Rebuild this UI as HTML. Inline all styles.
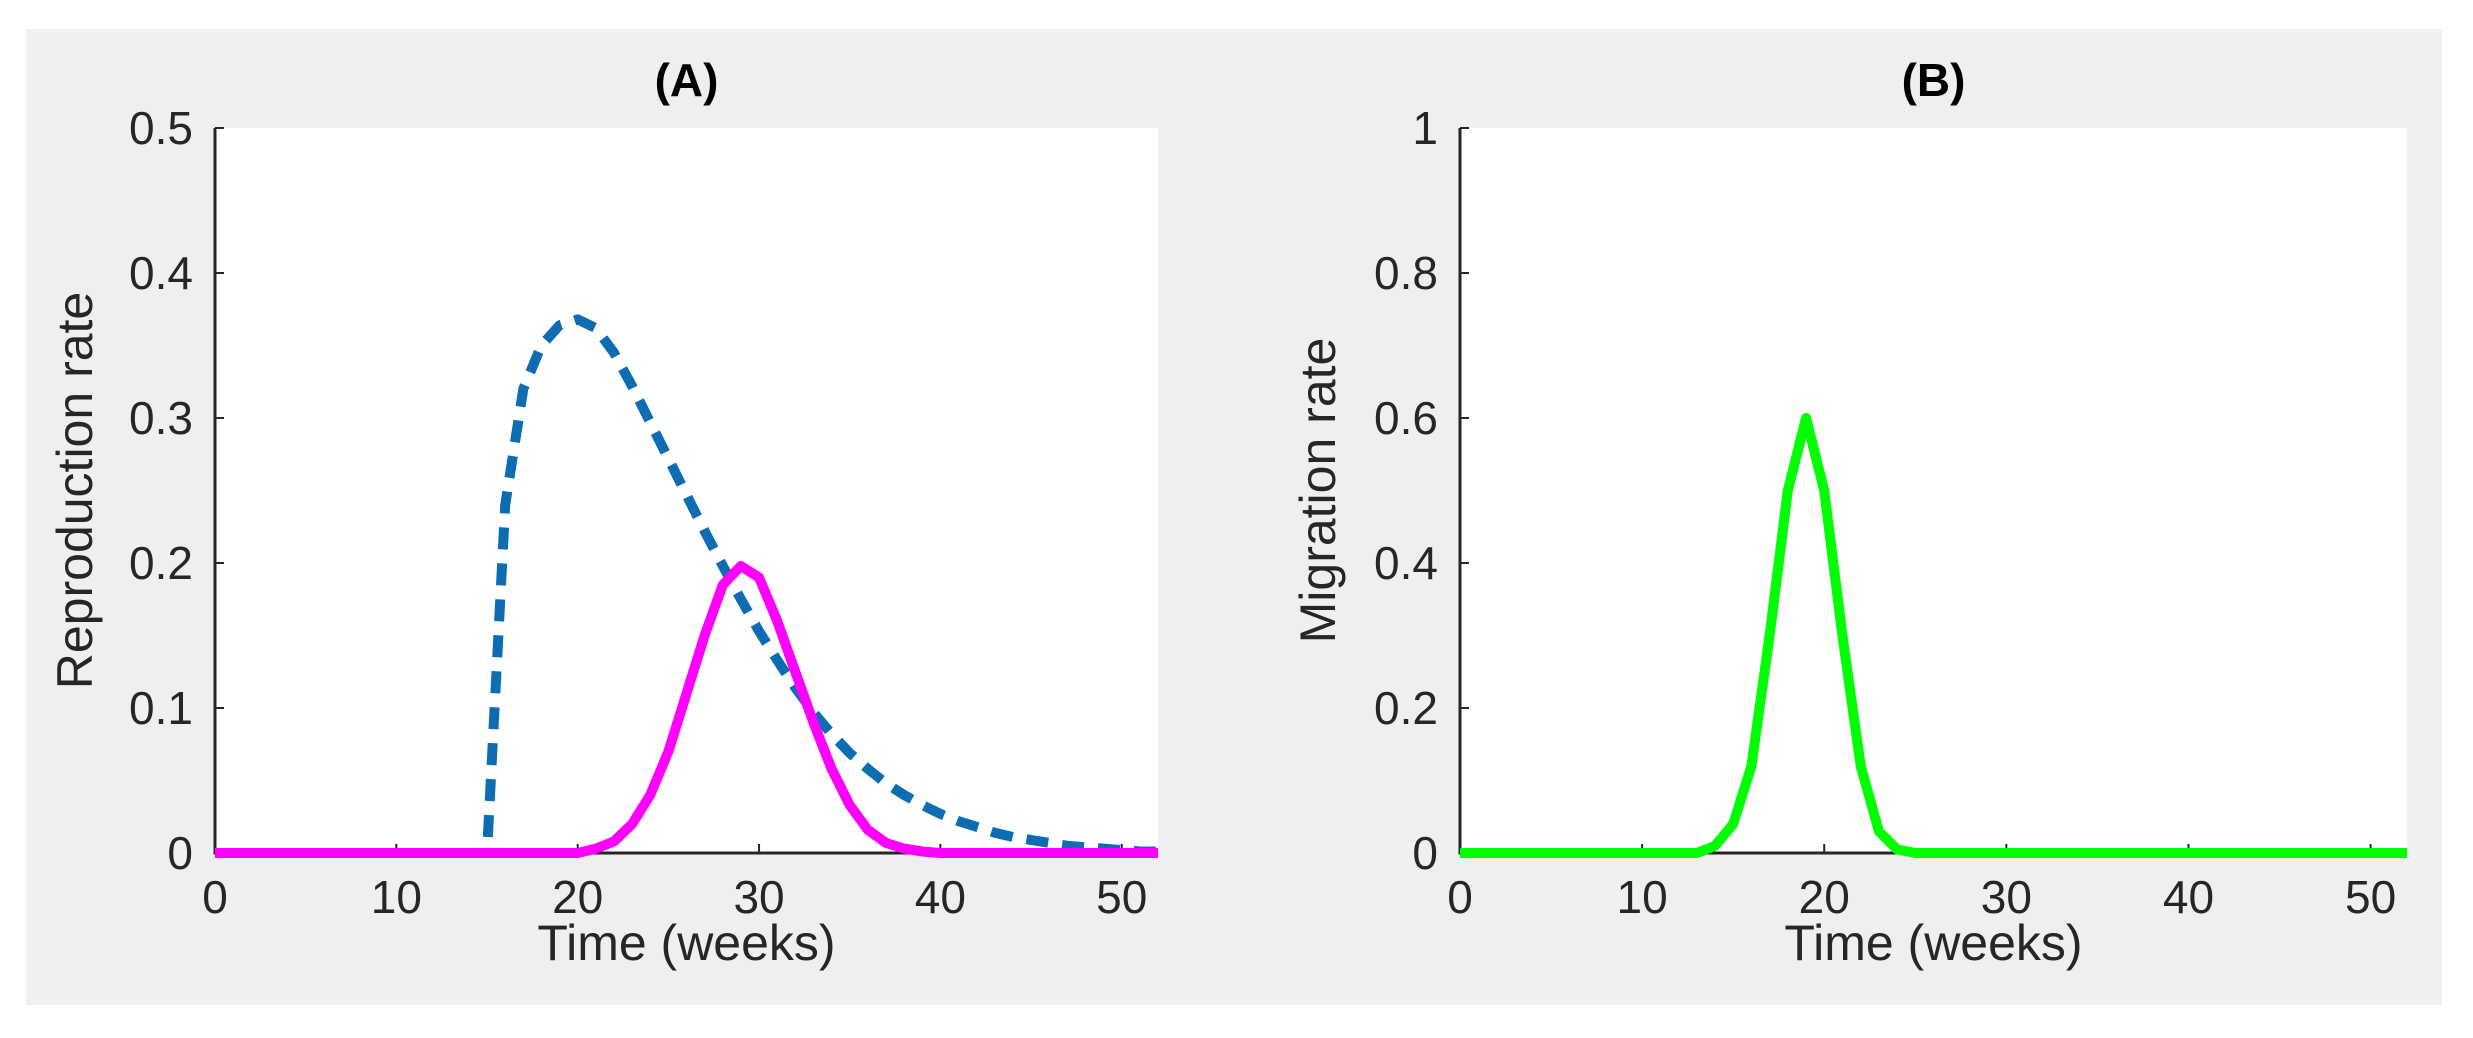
<!DOCTYPE html>
<html><head><meta charset="utf-8"><style>
html,body{margin:0;padding:0;background:#fff;}
svg{display:block;}
text{font-family:"Liberation Sans",Arial,sans-serif;fill:#262626;}
</style></head><body>
<svg id="fig" width="2473" height="1038" viewBox="0 0 2473 1038" xmlns="http://www.w3.org/2000/svg">
<rect x="26" y="29" width="2416" height="976" fill="#efefef"/>
<g id="pa"></g>
<g id="pb"></g>
</svg>
<script>
const weeks = [];
for (let i = 0; i <= 52; i++) weeks.push(i);
const blueRate = [0,0,0,0,0,0,0,0,0,0,0,0,0,0,0,0,0.24,0.32,0.35,0.364,0.368,0.362,0.345,0.322,0.297,0.272,0.247,0.222,0.198,0.175,0.153,0.133,0.114,0.097,0.082,0.069,0.058,0.048,0.04,0.033,0.027,0.022,0.018,0.014,0.011,0.009,0.007,0.005,0.004,0.003,0.002,0.001,0.001];
const pinkRate = [0,0,0,0,0,0,0,0,0,0,0,0,0,0,0,0,0,0,0,0,0,0.003,0.008,0.02,0.04,0.07,0.11,0.15,0.185,0.198,0.19,0.16,0.125,0.09,0.058,0.033,0.016,0.007,0.003,0.001,0,0,0,0,0,0,0,0,0,0,0,0,0];
const greenRate = [0,0,0,0,0,0,0,0,0,0,0,0,0,0,0.01,0.04,0.12,0.3,0.5,0.6,0.5,0.3,0.12,0.03,0.005,0,0,0,0,0,0,0,0,0,0,0,0,0,0,0,0,0,0,0,0,0,0,0,0,0,0,0,0];
const xTicks = [0,10,20,30,40,50];
const yTicksA = [0,0.1,0.2,0.3,0.4,0.5];
const yTicksB = [0,0.2,0.4,0.6,0.8,1];
const yTickLabelsB = ["0","0.2","0.4","0.6","0.8","1"];

const NS = "http://www.w3.org/2000/svg";
function mk(tag, attrs, parent) {
  const e = document.createElementNS(NS, tag);
  for (const k in attrs) e.setAttribute(k, attrs[k]);
  parent.appendChild(e);
  return e;
}
function panel(g, left, right, top, bottom, ymax, yTicks, yLabels, title, ylabel, lx) {
  const sx = v => left + (v / 52) * (right - left);
  const sy = v => bottom - (v / ymax) * (bottom - top);
  const bg = mk("rect", {x: left, y: top, width: right - left, height: bottom - top, fill: "#fff"}, g);
  
  
  const ax = mk("path", {d: `M${left} ${top}V${bottom}H${right}`, stroke: "#262626", "stroke-width": 3, fill: "none"}, g);
  
  
  xTicks.forEach(t => {
    const x = sx(t);
    const tk = mk("line", {x1: x, x2: x, y1: bottom, y2: bottom - 9, stroke: "#262626", "stroke-width": 2}, g);
    
    
    const tl = mk("text", {x: x, y: 913, "font-size": 46, "text-anchor": "middle"}, g);
    tl.textContent = String(t);
    
    
  });
  yTicks.forEach((t, i) => {
    const y = sy(t);
    const tk = mk("line", {x1: left, x2: left + 9, y1: y, y2: y, stroke: "#262626", "stroke-width": 2}, g);
    
    
    const tl = mk("text", {x: left - 22, y: y + 16, "font-size": 46, "text-anchor": "end"}, g);
    tl.textContent = yLabels[i];
    
    
  });
  const tt = mk("text", {x: (left + right) / 2, y: 96, "font-size": 46, "font-weight": "bold", "text-anchor": "middle", style: "fill:#000"}, g);
  tt.textContent = title;
  
  
  const xl = mk("text", {x: (left + right) / 2, y: 960, "font-size": 50, "text-anchor": "middle"}, g);
  xl.textContent = "Time (weeks)";
  
  
  const cy = (top + bottom) / 2;
  const yl = mk("text", {x: lx, y: cy, "font-size": 50, "text-anchor": "middle", transform: `rotate(-90 ${lx} ${cy})`, "dominant-baseline": "central"}, g);
  yl.textContent = ylabel;
  
  
  return {sx, sy};
}
function series(g, s, vals, color, dash, name) {
  const d = vals.map((v, i) => (i ? "L" : "M") + s.sx(weeks[i]).toFixed(1) + " " + s.sy(v).toFixed(1)).join("");
  const attrs = {d: d, stroke: color, "stroke-width": 10, fill: "none", "stroke-linejoin": "round"};
  if (dash) attrs["stroke-dasharray"] = dash;
  const p = mk("path", attrs, g);
  
  
}
const ga = document.getElementById("pa");
const sa = panel(ga, 215, 1158, 128, 853, 0.5, yTicksA, yTicksA.map(String), "(A)", "Reproduction rate", 75);
series(ga, sa, blueRate, "#0e6cb3", "22 14", "reproduction-dashed-line");
series(ga, sa, pinkRate, "#ff00ff", null, "reproduction-solid-line");
const gb = document.getElementById("pb");
const sb = panel(gb, 1460, 2407, 128, 853, 1, yTicksB, yTickLabelsB, "(B)", "Migration rate", 1318);
series(gb, sb, greenRate, "#00ff00", null, "migration-line");
</script>
</body></html>
